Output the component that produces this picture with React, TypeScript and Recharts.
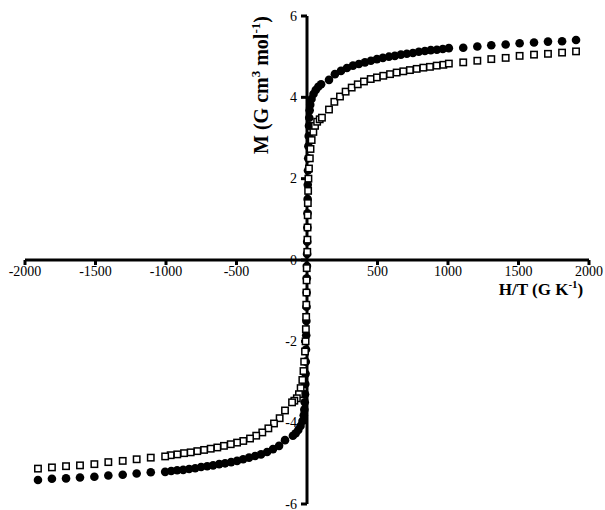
import React from "react";
import { ScatterChart, Scatter, XAxis, YAxis, ReferenceLine, ReferenceDot } from "recharts";

// Filled circles, positive branch
const circPosH = [0.5, 1.5, 2.5, 3.5, 4.5, 5.5, 7, 8.5, 10, 12, 14, 16, 19, 23, 32, 46, 62, 80, 100,
  156, 198, 241, 283, 326, 368, 411, 453, 496, 538, 581, 623, 666, 708, 751, 793, 836, 878, 921, 963, 1006,
  1108, 1208, 1307, 1409, 1508, 1610, 1709, 1809, 1908];
const circPosM = [0.15, 0.45, 0.8, 1.15, 1.5, 1.85, 2.2, 2.5, 2.8, 3.05, 3.3, 3.5, 3.68, 3.82, 3.96, 4.08, 4.18, 4.26, 4.32,
  4.43, 4.57, 4.65, 4.72, 4.78, 4.82, 4.86, 4.9, 4.94, 4.97, 5.0, 5.02, 5.05, 5.07, 5.09, 5.12, 5.14, 5.16, 5.17, 5.19, 5.21,
  5.22, 5.25, 5.28, 5.3, 5.33, 5.35, 5.37, 5.38, 5.41];

// Filled circles, negative branch
const circNegH = [-0.5, -1.5, -2.5, -3.5, -4.5, -5.5, -7, -8.5, -10, -12, -14, -16, -19, -23, -32, -46, -62, -80, -100,
  -156, -198, -241, -283, -326, -368, -411, -453, -496, -538, -581, -623, -666, -708, -751, -793, -836, -878, -921, -963, -1006,
  -1108, -1208, -1307, -1409, -1508, -1610, -1709, -1809, -1908];
const circNegM = [-0.15, -0.45, -0.8, -1.15, -1.5, -1.85, -2.2, -2.5, -2.8, -3.05, -3.3, -3.5, -3.68, -3.82, -3.96, -4.08, -4.18, -4.26, -4.32,
  -4.43, -4.57, -4.65, -4.72, -4.78, -4.82, -4.86, -4.9, -4.94, -4.97, -5.0, -5.02, -5.05, -5.07, -5.09, -5.12, -5.14, -5.16, -5.17, -5.19, -5.21,
  -5.22, -5.25, -5.28, -5.3, -5.33, -5.35, -5.37, -5.38, -5.41];

// Open squares, positive branch
const sqPosH = [2, 3, 4, 5, 6, 8, 10, 14, 20, 25, 33, 45, 57, 72, 90, 106,
  156, 194, 234, 274, 317, 360, 404, 452, 496, 541, 589, 636, 683, 730, 778, 825, 872, 920, 967, 1006,
  1108, 1208, 1307, 1409, 1508, 1610, 1709, 1809, 1908];
const sqPosM = [0.2, 0.5, 0.8, 1.1, 1.4, 1.7, 2.0, 2.25, 2.5, 2.73, 2.95, 3.15, 3.3, 3.4, 3.46, 3.5,
  3.7, 3.89, 4.02, 4.14, 4.24, 4.32, 4.39, 4.45, 4.49, 4.53, 4.57, 4.61, 4.64, 4.67, 4.7, 4.73, 4.75, 4.78, 4.8, 4.83,
  4.86, 4.9, 4.94, 4.97, 5.02, 5.05, 5.07, 5.1, 5.13];

// Open squares, negative branch
const sqNegH = [-2, -3, -4, -5, -6, -8, -10, -14, -20, -25, -33, -45, -57, -72, -90, -106,
  -156, -194, -234, -274, -317, -360, -404, -452, -496, -541, -589, -636, -683, -730, -778, -825, -872, -920, -967, -1006,
  -1108, -1208, -1307, -1409, -1508, -1610, -1709, -1809, -1908];
const sqNegM = [-0.2, -0.5, -0.8, -1.1, -1.4, -1.7, -2.0, -2.25, -2.5, -2.73, -2.95, -3.15, -3.3, -3.4, -3.46, -3.5,
  -3.7, -3.89, -4.02, -4.14, -4.24, -4.32, -4.39, -4.45, -4.49, -4.53, -4.57, -4.61, -4.64, -4.67, -4.7, -4.73, -4.75, -4.78, -4.8, -4.83,
  -4.86, -4.9, -4.94, -4.97, -5.02, -5.05, -5.07, -5.1, -5.13];

const xTicks = [-2000, -1500, -1000, -500, 500, 1000, 1500, 2000];
const yTicks = [6, 4, 2, 0, -2, -4, -6];

const zip = (hs: number[], ms: number[]) => hs.map((h, i) => ({ h, m: ms[i] }));
const circles = [...zip(circNegH, circNegM), ...zip(circPosH, circPosM)];
const squares = [...zip(sqNegH, sqNegM), ...zip(sqPosH, sqPosM)];

const FONT = "'Liberation Serif', 'Times New Roman', serif";

const CircleShape = (p: any) => <circle cx={p.cx} cy={p.cy} r={4.3} fill="#000" />;
const SquareShape = (p: any) => (
  <rect x={p.cx - 3.2} y={p.cy - 3.2} width={6.4} height={6.4} fill="#fff" stroke="#000" strokeWidth={1.5} />
);

export default function App() {
  return (
    <div style={{ position: "absolute", left: 0, top: 0, background: "#fff" }}>
      <ScatterChart width={605} height={510} margin={{ top: 16, right: 16, bottom: 6, left: 25 }}>
        <XAxis type="number" dataKey="h" domain={[-2000, 2000]} hide />
        <YAxis type="number" dataKey="m" domain={[-6, 6]} hide />
        <ReferenceLine y={0} stroke="#000" strokeWidth={3} />
        <ReferenceLine x={0} stroke="#000" strokeWidth={3} />
        {xTicks.map((t) => (
          <ReferenceDot
            key={"x" + t}
            x={t}
            y={0}
            r={1}
            shape={(p: any) => (
              <g>
                <line x1={p.cx} y1={p.cy} x2={p.cx} y2={p.cy + 5} stroke="#000" strokeWidth={3} />
                <text x={p.cx} y={p.cy + 16} textAnchor="middle" fontFamily={FONT} fontSize={14} fill="#000">
                  {t}
                </text>
              </g>
            )}
          />
        ))}
        {yTicks.map((t) => (
          <ReferenceDot
            key={"y" + t}
            x={0}
            y={t}
            r={1}
            shape={(p: any) => (
              <g>
                <line x1={p.cx} y1={p.cy} x2={p.cx - 6} y2={p.cy} stroke="#000" strokeWidth={3} />
                <text x={p.cx - 10} y={p.cy + 4.5} textAnchor="end" fontFamily={FONT} fontSize={14} fill="#000">
                  {t}
                </text>
              </g>
            )}
          />
        ))}
        <ReferenceDot
          x={2000}
          y={0}
          r={1}
          shape={(p: any) => (
            <text x={p.cx - 48} y={p.cy + 35} textAnchor="middle" fontFamily={FONT} fontSize={17} fontWeight="bold" fill="#000">
              H/T (G K<tspan dy={-7} fontSize={11}>-1</tspan><tspan dy={7}>)</tspan>
            </text>
          )}
        />
        <ReferenceDot
          x={0}
          y={6}
          r={1}
          shape={(p: any) => (
            <text
              transform={`translate(${p.cx - 39}, ${p.cy + 69}) rotate(-90)`}
              textAnchor="middle"
              fontFamily={FONT}
              fontSize={20}
              fontWeight="bold"
              fill="#000"
            >
              M (G cm<tspan dy={-8} fontSize={13}>3</tspan><tspan dy={8}> mol</tspan><tspan dy={-8} fontSize={13}>-1</tspan><tspan dy={8}>)</tspan>
            </text>
          )}
        />
        <Scatter data={circles} isAnimationActive={false} shape={CircleShape} />
        <Scatter data={squares} isAnimationActive={false} shape={SquareShape} />
      </ScatterChart>
    </div>
  );
}
